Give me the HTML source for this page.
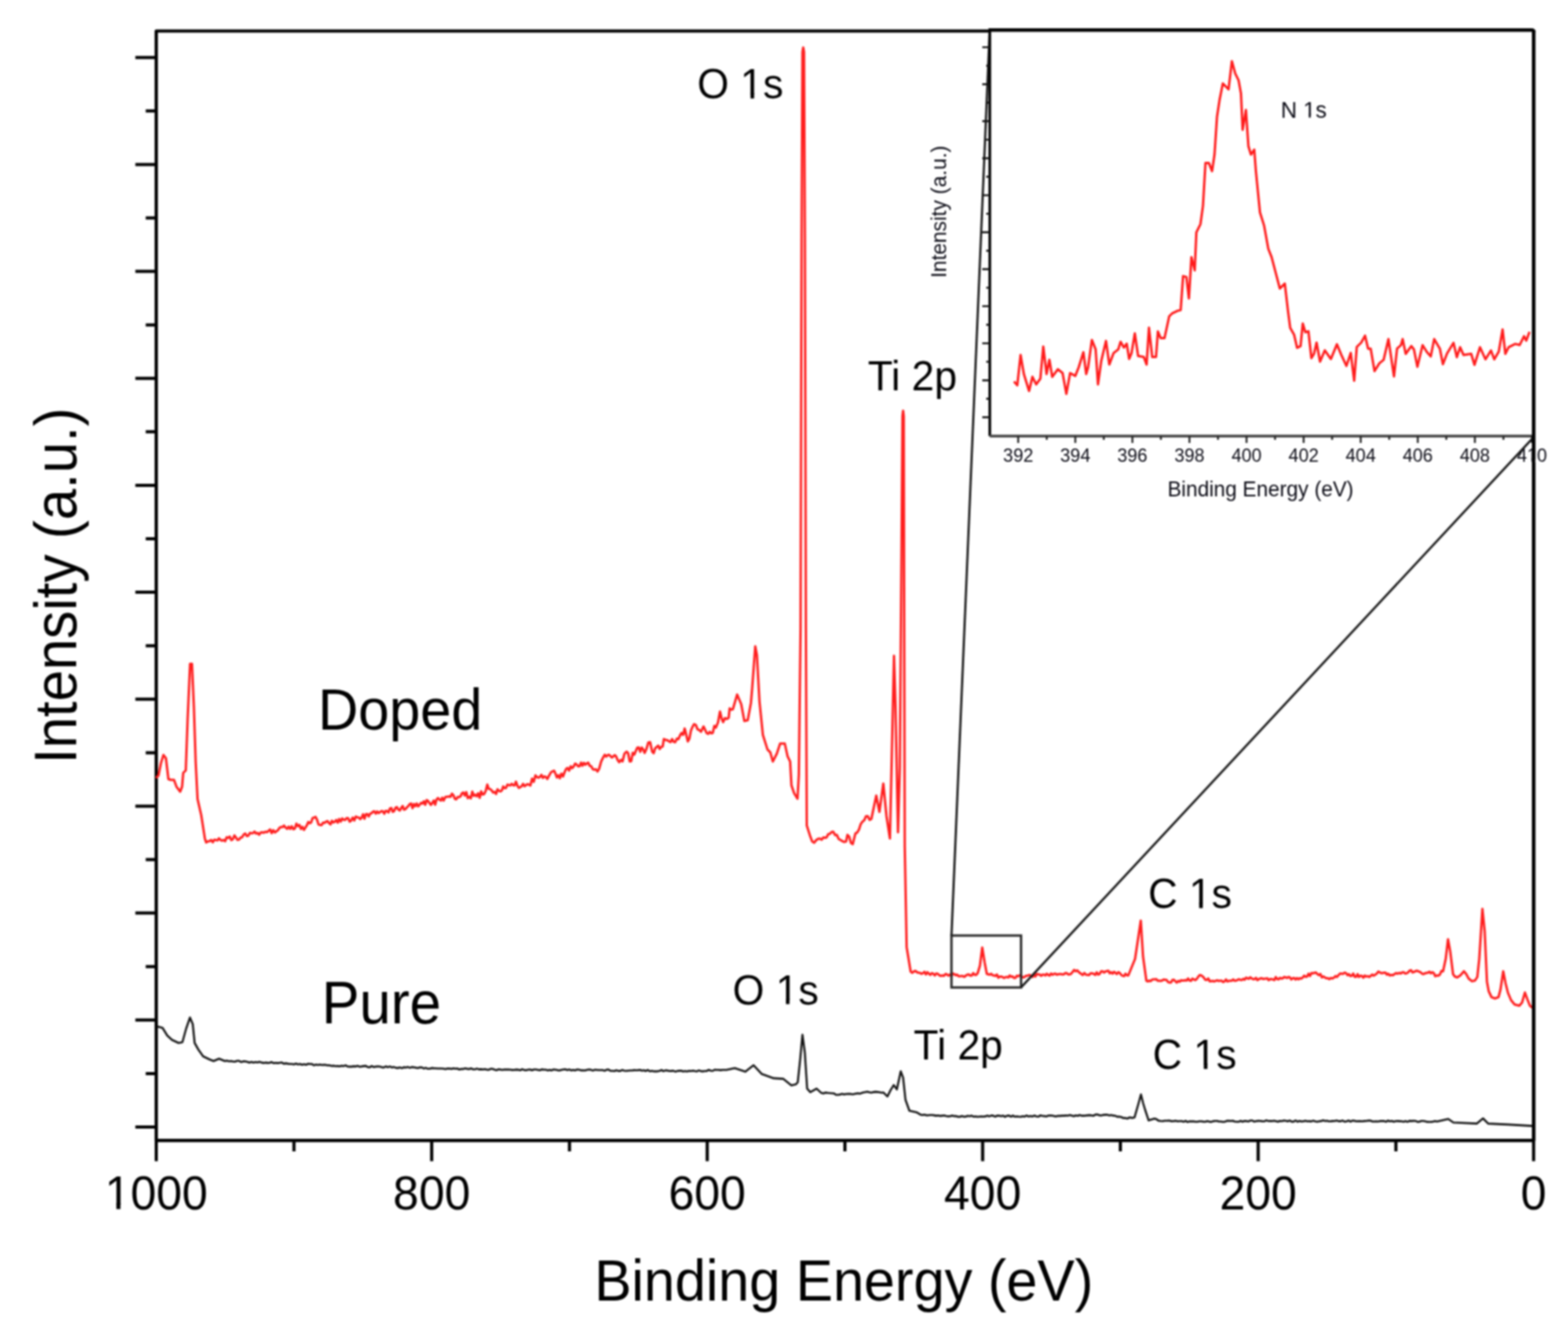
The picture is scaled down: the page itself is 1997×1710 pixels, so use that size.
<!DOCTYPE html>
<html><head><meta charset="utf-8"><title>XPS survey spectra of pure and N-doped TiO2</title>
<style>
html,body{margin:0;padding:0;background:#fff;width:1997px;height:1710px;overflow:hidden;}
svg{display:block;}
text{font-family:"Liberation Sans",Arial,Helvetica,sans-serif;fill:#000;}
.tk{font-size:59px;}
.lab{font-size:52px;}
.big{font-size:71px;}
.itk{font-size:23px;fill:#0a0a14;}
.isub{font-size:26px;fill:#0a0a14;}
</style></head>
<body>
<div id="fig" style="filter:blur(1px)">
<svg width="1997" height="1710" viewBox="0 0 1997 1710">
<rect width="1997" height="1710" fill="#fff"/>
<g>
<path d="M199.0,1452.2 V39.5 H1953.2 V1452.2 Z" fill="none" stroke="#000" stroke-width="4.2" stroke-linejoin="round"/>
<path d="M172.4,73.2H199.0 M172.4,209.4H199.0 M172.4,345.6H199.0 M172.4,481.7H199.0 M172.4,617.9H199.0 M172.4,754.1H199.0 M172.4,890.3H199.0 M172.4,1026.5H199.0 M172.4,1162.6H199.0 M172.4,1298.8H199.0 M172.4,1435.0H199.0 M185.6,141.3H199.0 M185.6,277.5H199.0 M185.6,413.7H199.0 M185.6,549.8H199.0 M185.6,686.0H199.0 M185.6,822.2H199.0 M185.6,958.4H199.0 M185.6,1094.5H199.0 M185.6,1230.7H199.0 M185.6,1366.9H199.0 M199.0,1452.2V1478.5 M549.8,1452.2V1478.5 M900.7,1452.2V1478.5 M1251.5,1452.2V1478.5 M1602.4,1452.2V1478.5 M1953.2,1452.2V1478.5 M374.4,1452.2V1466 M725.3,1452.2V1466 M1076.1,1452.2V1466 M1426.9,1452.2V1466 M1777.8,1452.2V1466" fill="none" stroke="#000" stroke-width="4"/>
<path d="M200.4,1307.0 L207.0,1308.8 L213.0,1318.5 L219.0,1324.0 L227.5,1328.0 L232.3,1327.0 L237.0,1310.0 L241.9,1295.6 L245.5,1304.0 L247.9,1328.0 L252.7,1336.5 L258.7,1345.0 L267.0,1349.0 L272.0,1351.0 L279.0,1348.0 L286.3,1351.0 L288.9,1350.6 L291.5,1351.3 L294.1,1351.0 L296.7,1351.6 L299.3,1351.7 L302.0,1350.8 L304.6,1350.8 L307.2,1352.3 L309.8,1351.4 L312.4,1351.4 L315.0,1352.0 L317.6,1353.0 L320.1,1352.1 L322.7,1352.9 L325.3,1352.3 L327.9,1352.7 L330.4,1351.9 L333.0,1352.9 L335.6,1353.4 L338.1,1352.9 L340.7,1353.4 L343.3,1353.3 L345.9,1352.3 L348.4,1353.7 L351.0,1353.3 L353.6,1353.6 L356.2,1353.2 L358.8,1352.8 L361.4,1354.4 L364.0,1353.9 L366.6,1354.4 L369.1,1354.8 L371.7,1354.7 L374.3,1355.2 L376.9,1354.3 L379.5,1355.2 L382.1,1354.7 L384.7,1355.7 L387.3,1355.0 L389.8,1355.8 L392.3,1354.5 L394.8,1354.7 L397.3,1354.9 L399.9,1356.4 L402.4,1355.5 L404.9,1356.0 L407.4,1355.5 L409.9,1356.0 L412.4,1355.8 L414.9,1355.9 L417.4,1356.4 L419.9,1356.5 L422.4,1357.2 L425.0,1356.9 L427.5,1357.5 L430.0,1357.4 L432.5,1357.8 L435.0,1357.0 L437.6,1357.4 L440.1,1356.5 L442.7,1357.9 L445.2,1358.1 L447.8,1358.1 L450.4,1357.6 L452.9,1357.9 L455.5,1357.1 L458.1,1358.2 L460.6,1357.9 L463.2,1357.4 L465.8,1357.1 L468.3,1358.6 L470.9,1358.9 L473.4,1357.3 L476.0,1358.7 L478.6,1358.1 L481.1,1357.7 L483.7,1358.0 L486.2,1358.9 L488.8,1359.2 L491.4,1357.8 L493.9,1358.9 L496.5,1357.9 L499.1,1359.2 L501.6,1358.6 L504.2,1359.6 L506.8,1359.9 L509.3,1359.1 L511.9,1360.1 L514.4,1358.9 L517.0,1359.3 L519.5,1358.6 L522.0,1359.6 L524.6,1358.6 L527.1,1359.0 L529.6,1359.4 L532.1,1359.9 L534.6,1359.1 L537.2,1359.0 L539.7,1360.5 L542.2,1359.6 L544.7,1360.8 L547.2,1360.7 L549.8,1359.9 L552.3,1360.1 L554.8,1360.2 L557.3,1360.5 L559.8,1360.5 L562.4,1360.5 L564.9,1360.7 L567.4,1361.3 L569.9,1360.6 L572.4,1360.5 L575.0,1361.1 L577.5,1360.3 L580.0,1360.8 L582.5,1360.5 L585.0,1361.8 L587.5,1361.0 L590.0,1361.1 L592.5,1360.2 L595.0,1360.9 L597.5,1361.3 L600.0,1360.3 L602.5,1361.5 L605.0,1361.5 L607.5,1360.6 L610.0,1361.6 L612.5,1361.4 L615.0,1361.8 L617.5,1361.3 L620.0,1362.0 L622.5,1362.1 L625.0,1360.8 L627.5,1361.0 L630.0,1362.1 L632.5,1362.7 L635.0,1361.5 L637.5,1361.9 L640.0,1362.2 L642.5,1361.7 L645.0,1361.9 L647.5,1361.8 L650.0,1362.0 L652.5,1362.4 L655.0,1362.3 L657.5,1361.9 L660.0,1362.1 L662.5,1362.8 L665.0,1361.4 L667.5,1362.4 L670.0,1362.7 L672.5,1362.0 L675.0,1361.8 L677.5,1362.8 L680.0,1361.8 L682.5,1361.7 L685.0,1362.2 L687.5,1362.7 L690.0,1361.6 L692.5,1362.0 L695.0,1362.0 L697.5,1362.9 L700.0,1362.2 L702.5,1362.9 L705.0,1361.7 L707.5,1362.0 L710.0,1362.6 L712.5,1363.0 L715.0,1362.2 L717.5,1361.8 L720.0,1361.6 L722.5,1362.4 L725.0,1361.7 L727.5,1362.9 L730.0,1362.3 L732.5,1362.9 L735.0,1361.8 L737.5,1362.0 L740.0,1362.9 L742.5,1362.7 L745.0,1363.0 L747.5,1362.2 L750.0,1361.8 L752.5,1362.1 L755.0,1363.1 L757.5,1362.1 L760.0,1362.3 L762.5,1362.5 L765.0,1362.5 L767.5,1362.5 L770.0,1363.4 L772.5,1362.1 L775.0,1361.8 L777.5,1363.5 L780.0,1363.5 L782.5,1363.7 L785.0,1362.7 L787.5,1363.6 L790.0,1363.6 L792.5,1362.4 L795.0,1363.3 L797.5,1363.5 L800.0,1363.2 L802.5,1363.0 L805.0,1363.0 L807.5,1362.6 L810.0,1362.8 L812.5,1362.6 L815.0,1362.3 L817.5,1363.3 L820.0,1362.8 L822.5,1363.7 L825.0,1362.4 L827.5,1364.0 L830.0,1363.6 L832.5,1364.1 L835.0,1364.0 L837.5,1364.1 L840.0,1363.5 L842.5,1362.5 L845.0,1363.9 L847.5,1362.9 L850.0,1363.1 L852.5,1363.8 L855.0,1363.6 L857.5,1363.4 L860.0,1364.4 L862.5,1363.8 L865.0,1363.4 L867.5,1363.2 L870.0,1364.3 L872.5,1363.7 L875.0,1364.3 L877.5,1363.5 L880.0,1363.8 L882.5,1363.2 L885.0,1363.7 L887.5,1364.1 L890.1,1362.9 L892.6,1363.9 L895.1,1364.1 L897.6,1363.8 L900.1,1363.7 L902.6,1362.2 L905.2,1363.2 L907.7,1363.5 L910.2,1362.0 L912.7,1362.3 L915.2,1362.2 L917.8,1362.6 L920.3,1362.3 L922.8,1362.3 L925.3,1362.3 L935.8,1360.0 L949.3,1364.6 L959.8,1356.3 L970.3,1367.6 L985.4,1372.9 L997.4,1373.6 L1007.9,1381.9 L1013.9,1380.4 L1016.0,1378.0 L1019.0,1350.0 L1022.0,1317.5 L1025.0,1340.0 L1028.0,1386.1 L1032.0,1390.6 L1040.0,1386.1 L1046.0,1391.6 L1048.7,1392.3 L1051.3,1391.1 L1054.0,1391.5 L1056.7,1391.8 L1059.3,1392.0 L1062.0,1392.2 L1064.7,1394.0 L1067.3,1394.0 L1070.0,1393.6 L1072.5,1392.8 L1075.0,1393.4 L1077.5,1393.0 L1080.0,1392.9 L1082.5,1392.8 L1085.0,1393.3 L1087.5,1393.1 L1090.0,1392.5 L1092.5,1392.1 L1095.0,1392.6 L1098.5,1391.3 L1102.0,1390.6 L1104.6,1390.0 L1107.2,1390.8 L1109.7,1391.2 L1112.3,1390.6 L1114.9,1390.1 L1117.5,1390.4 L1120.0,1390.8 L1122.6,1391.2 L1125.2,1391.1 L1130.2,1396.1 L1134.2,1388.1 L1138.2,1381.6 L1142.2,1387.1 L1147.2,1364.1 L1150.2,1372.1 L1153.2,1400.2 L1158.2,1414.2 L1167.2,1416.2 L1172.2,1419.2 L1174.7,1419.8 L1177.2,1419.3 L1179.8,1420.1 L1182.3,1420.0 L1184.8,1419.7 L1187.3,1419.8 L1189.8,1420.1 L1192.4,1420.6 L1194.9,1420.3 L1197.4,1420.9 L1199.9,1420.6 L1202.4,1420.3 L1205.0,1421.0 L1207.5,1421.4 L1210.0,1421.2 L1212.5,1420.4 L1215.0,1421.1 L1217.5,1421.1 L1220.0,1421.9 L1222.5,1422.0 L1225.0,1421.0 L1227.5,1421.9 L1230.0,1421.8 L1232.5,1420.8 L1235.0,1421.2 L1237.5,1420.6 L1240.0,1421.8 L1242.5,1421.5 L1245.0,1422.0 L1247.5,1421.8 L1250.0,1421.6 L1252.5,1421.7 L1255.0,1421.4 L1257.5,1420.6 L1260.0,1421.4 L1262.5,1420.4 L1265.0,1420.6 L1267.5,1421.8 L1270.0,1420.5 L1272.5,1420.6 L1275.0,1421.3 L1277.5,1420.6 L1280.0,1422.0 L1282.5,1420.7 L1285.0,1420.4 L1287.5,1421.8 L1290.0,1420.5 L1292.5,1421.8 L1295.0,1421.5 L1297.5,1421.8 L1300.0,1422.0 L1302.5,1421.3 L1305.0,1421.7 L1307.5,1420.3 L1310.0,1421.6 L1312.5,1421.1 L1315.0,1421.5 L1317.5,1420.4 L1320.0,1421.5 L1322.5,1421.8 L1325.0,1420.2 L1327.5,1420.7 L1330.0,1421.1 L1332.5,1421.6 L1335.0,1420.5 L1337.5,1420.4 L1340.0,1420.5 L1342.5,1421.1 L1345.0,1421.4 L1347.5,1420.7 L1350.0,1420.9 L1352.5,1420.6 L1355.0,1420.6 L1357.5,1420.4 L1360.0,1420.5 L1362.6,1419.8 L1365.1,1420.5 L1367.6,1421.3 L1370.1,1420.2 L1372.6,1420.8 L1375.1,1419.7 L1377.6,1420.6 L1380.2,1420.6 L1382.7,1420.4 L1385.2,1420.1 L1387.7,1419.9 L1390.2,1420.2 L1392.7,1420.6 L1395.2,1419.1 L1397.7,1419.0 L1400.2,1420.1 L1402.8,1420.3 L1405.3,1419.6 L1407.8,1419.4 L1410.3,1419.4 L1412.8,1420.3 L1415.3,1419.8 L1417.8,1420.4 L1420.3,1420.7 L1422.8,1421.9 L1425.3,1421.9 L1427.8,1422.2 L1430.3,1423.5 L1432.8,1423.6 L1435.8,1424.2 L1438.8,1422.8 L1441.9,1423.4 L1444.9,1422.8 L1450.0,1405.0 L1453.1,1393.5 L1456.0,1405.0 L1458.4,1413.0 L1462.9,1426.6 L1470.4,1424.3 L1472.9,1425.1 L1475.4,1426.9 L1477.9,1427.3 L1480.7,1427.5 L1483.4,1427.0 L1486.2,1427.0 L1489.0,1426.7 L1491.7,1427.6 L1494.5,1427.5 L1497.2,1427.1 L1500.0,1427.8 L1502.5,1427.5 L1505.0,1427.5 L1507.5,1428.3 L1510.0,1427.1 L1512.5,1428.6 L1515.0,1427.7 L1517.5,1427.9 L1520.0,1427.7 L1522.5,1428.3 L1525.0,1428.3 L1527.5,1427.8 L1530.0,1427.7 L1532.5,1428.1 L1535.0,1428.3 L1537.5,1427.5 L1540.0,1428.1 L1542.5,1428.5 L1545.0,1427.6 L1547.5,1427.2 L1550.0,1427.2 L1552.5,1428.0 L1555.0,1428.0 L1557.5,1428.5 L1560.0,1428.3 L1562.5,1427.1 L1565.0,1427.0 L1567.5,1427.2 L1570.0,1427.0 L1572.5,1428.0 L1575.0,1428.2 L1577.5,1428.3 L1580.0,1427.1 L1582.5,1428.2 L1585.0,1427.2 L1587.5,1427.4 L1590.0,1427.9 L1592.5,1426.8 L1595.0,1426.8 L1597.5,1428.1 L1600.0,1427.5 L1602.5,1427.1 L1605.0,1427.2 L1607.5,1427.6 L1610.0,1427.8 L1612.5,1426.6 L1615.0,1427.2 L1617.5,1427.4 L1620.0,1427.4 L1622.5,1426.9 L1625.0,1427.6 L1627.5,1428.3 L1630.0,1427.2 L1632.5,1427.5 L1635.0,1426.7 L1637.5,1427.0 L1640.0,1427.7 L1642.5,1426.7 L1645.0,1428.1 L1647.5,1428.1 L1650.0,1426.7 L1652.5,1428.2 L1655.0,1427.2 L1657.5,1427.9 L1660.0,1427.8 L1662.5,1427.0 L1665.0,1427.7 L1667.5,1427.6 L1670.0,1427.9 L1672.5,1426.9 L1675.0,1427.8 L1677.5,1428.2 L1680.0,1427.7 L1682.5,1427.4 L1685.0,1426.6 L1687.5,1427.3 L1690.0,1427.1 L1692.5,1427.7 L1695.0,1427.6 L1697.5,1427.4 L1700.0,1427.3 L1702.5,1426.7 L1705.0,1427.6 L1707.5,1427.6 L1710.0,1426.8 L1712.5,1428.1 L1715.0,1427.7 L1717.5,1426.7 L1720.0,1428.2 L1722.5,1426.8 L1725.0,1427.1 L1727.5,1427.8 L1730.0,1427.6 L1732.5,1427.6 L1735.1,1427.8 L1737.6,1427.4 L1740.1,1427.2 L1742.6,1426.9 L1745.1,1426.8 L1747.6,1427.9 L1750.1,1428.0 L1752.6,1427.7 L1755.1,1428.0 L1757.6,1427.4 L1760.1,1427.2 L1762.6,1427.4 L1765.1,1428.3 L1767.6,1426.8 L1770.1,1427.7 L1772.6,1427.2 L1775.1,1428.2 L1777.6,1427.5 L1780.1,1427.4 L1782.6,1427.6 L1785.1,1427.8 L1787.6,1428.3 L1790.1,1427.5 L1792.6,1428.4 L1795.1,1427.1 L1797.7,1427.4 L1800.2,1427.1 L1802.7,1427.2 L1805.2,1428.4 L1807.7,1428.3 L1810.2,1427.3 L1812.7,1427.3 L1815.2,1427.8 L1817.7,1428.4 L1820.2,1428.5 L1822.7,1428.4 L1825.2,1428.1 L1827.7,1427.4 L1830.2,1428.0 L1844.5,1424.7 L1851.0,1429.3 L1881.0,1430.6 L1888.8,1424.0 L1895.3,1430.6 L1921.4,1431.9 L1951.3,1433.6" fill="none" stroke="#141414" stroke-width="2.6" stroke-linejoin="round"/>
<path d="M198.7,990.6 L201.8,987.4 L205.0,971.6 L208.2,961.3 L211.3,965.3 L214.5,992.0 L217.6,993.0 L221.6,993.0 L224.7,1001.6 L229.5,1008.0 L231.9,1001.6 L233.4,984.0 L236.6,981.0 L239.0,914.8 L242.1,845.3 L244.5,845.3 L246.9,899.0 L249.2,970.0 L251.6,1017.4 L256.3,1038.0 L261.0,1068.0 L262.6,1072.7 L264.7,1071.3 L266.9,1071.0 L269.0,1069.5 L271.0,1072.4 L272.9,1069.3 L274.9,1069.6 L276.9,1070.1 L278.9,1067.4 L280.9,1069.6 L282.8,1070.4 L284.8,1069.5 L286.8,1071.1 L288.7,1066.0 L290.7,1067.0 L292.6,1065.2 L294.6,1069.7 L296.6,1068.5 L298.5,1063.7 L300.5,1066.4 L302.5,1069.4 L304.4,1069.0 L306.4,1066.5 L308.4,1066.0 L310.4,1062.6 L312.4,1061.3 L314.3,1064.5 L316.3,1064.0 L318.3,1060.5 L320.2,1060.9 L322.2,1060.7 L324.1,1058.8 L326.1,1061.3 L328.1,1060.6 L330.0,1062.8 L332.0,1060.0 L334.0,1059.8 L336.0,1060.2 L338.0,1058.9 L340.0,1059.6 L342.0,1057.8 L344.0,1056.2 L346.0,1060.8 L348.0,1057.0 L350.0,1060.0 L351.9,1058.5 L353.9,1057.2 L355.9,1054.1 L357.8,1053.1 L359.8,1053.1 L361.7,1051.2 L363.7,1053.7 L365.7,1055.3 L367.6,1052.6 L369.6,1055.4 L371.6,1052.1 L373.6,1055.8 L375.6,1054.8 L377.5,1048.8 L379.5,1052.0 L381.4,1050.4 L383.3,1055.5 L385.2,1052.8 L387.1,1056.6 L389.0,1053.7 L390.8,1050.9 L392.7,1046.6 L394.5,1048.2 L396.3,1047.1 L398.2,1041.6 L400.0,1041.0 L401.9,1040.1 L403.8,1043.7 L405.7,1049.9 L407.6,1050.4 L409.5,1050.6 L411.4,1047.5 L413.3,1047.8 L415.2,1046.3 L417.1,1045.5 L419.0,1048.0 L420.9,1049.7 L422.7,1045.1 L424.6,1047.3 L426.5,1046.2 L428.3,1044.1 L430.2,1047.4 L432.0,1042.9 L433.9,1046.1 L435.8,1042.1 L437.6,1043.8 L439.5,1044.0 L441.4,1041.7 L443.4,1041.8 L445.3,1046.2 L447.3,1044.7 L449.2,1041.0 L451.2,1044.6 L453.1,1039.7 L455.1,1040.6 L457.0,1041.0 L458.8,1042.9 L460.6,1041.0 L462.4,1036.9 L464.2,1042.5 L466.0,1036.7 L467.8,1036.6 L469.6,1039.6 L471.4,1036.1 L473.2,1035.4 L475.0,1033.4 L476.8,1033.1 L478.6,1036.0 L480.4,1033.2 L482.2,1035.2 L484.0,1034.0 L485.8,1032.8 L487.6,1033.0 L489.4,1036.1 L491.2,1032.5 L493.0,1032.7 L494.8,1034.4 L496.6,1029.4 L498.4,1028.8 L500.2,1033.6 L502.0,1032.6 L503.8,1028.4 L505.6,1027.7 L507.4,1031.0 L509.2,1032.0 L511.0,1028.7 L512.8,1026.3 L514.6,1031.0 L516.4,1030.2 L518.2,1028.0 L520.0,1026.4 L521.8,1023.8 L523.6,1023.0 L525.4,1029.0 L527.2,1023.7 L529.0,1026.5 L530.8,1023.1 L532.6,1026.6 L534.4,1024.7 L536.2,1022.3 L538.0,1023.3 L539.8,1020.2 L541.6,1024.7 L543.4,1018.7 L545.2,1019.8 L547.0,1022.5 L548.8,1024.8 L550.6,1022.4 L552.4,1019.2 L554.2,1024.6 L556.0,1018.0 L557.8,1016.1 L559.6,1018.1 L561.4,1019.4 L563.2,1015.7 L565.0,1019.3 L567.3,1014.7 L569.7,1014.6 L572.0,1014.0 L573.8,1014.5 L575.6,1010.6 L577.5,1012.5 L579.3,1017.1 L581.1,1017.8 L582.9,1014.8 L584.7,1015.0 L586.5,1014.0 L588.4,1010.0 L590.2,1009.0 L592.0,1013.0 L593.9,1008.6 L595.8,1016.3 L597.7,1014.3 L599.6,1016.5 L601.5,1008.0 L603.4,1013.3 L605.2,1011.8 L607.1,1013.8 L609.0,1010.0 L610.9,1015.9 L612.8,1007.6 L614.7,1011.6 L616.6,1011.0 L618.6,1007.1 L620.6,999.0 L622.5,1004.4 L624.4,1004.8 L626.2,1006.4 L628.1,1009.1 L630.0,1008.4 L631.8,1011.0 L633.6,1005.0 L635.4,1006.9 L637.2,1007.7 L639.1,1006.4 L640.9,1001.4 L642.7,1003.6 L644.5,1003.2 L646.3,999.0 L648.1,999.6 L649.9,1000.1 L651.7,998.0 L653.5,999.7 L655.3,1000.0 L657.1,995.3 L658.9,1000.2 L660.8,1003.3 L662.6,1002.3 L664.4,1001.0 L666.2,998.0 L668.0,1001.1 L669.8,999.7 L671.6,998.5 L673.4,999.0 L675.5,1000.1 L677.6,991.5 L679.8,995.5 L681.9,987.3 L684.0,989.5 L685.9,990.2 L687.8,989.0 L689.6,986.6 L691.5,990.5 L693.4,988.5 L695.2,989.4 L697.1,991.9 L699.0,988.0 L702.0,983.0 L703.8,982.2 L705.7,981.4 L707.5,985.2 L709.3,989.9 L711.2,987.0 L713.0,991.0 L715.0,985.1 L717.0,988.6 L719.0,983.4 L721.0,979.0 L722.9,977.9 L724.8,981.2 L726.8,975.7 L728.7,978.1 L730.6,976.0 L732.5,972.3 L734.4,973.4 L736.2,975.7 L738.1,975.6 L740.0,971.0 L741.8,975.0 L743.7,971.3 L745.5,973.7 L747.3,972.1 L749.2,971.1 L751.0,975.0 L753.0,975.6 L755.0,979.3 L757.0,980.1 L759.0,979.5 L761.0,982.3 L763.0,979.0 L765.7,969.5 L768.4,964.0 L770.2,961.0 L772.0,963.3 L773.8,961.7 L775.6,961.0 L777.4,962.7 L779.2,964.4 L781.0,963.2 L782.8,961.5 L784.6,963.0 L786.6,967.6 L788.7,970.5 L790.8,967.5 L792.8,969.5 L795.4,959.5 L798.0,957.0 L800.0,959.1 L802.0,969.5 L803.9,969.3 L805.9,958.5 L807.8,960.8 L809.8,956.1 L811.7,952.0 L813.6,951.7 L815.4,957.2 L817.3,951.8 L819.1,954.2 L821.0,958.7 L823.3,953.7 L825.7,945.4 L828.0,945.0 L830.6,957.0 L832.5,959.0 L834.4,952.9 L836.3,951.1 L838.3,949.4 L840.2,953.6 L842.1,951.0 L844.0,950.6 L845.5,941.0 L847.6,942.1 L849.7,942.4 L851.8,943.7 L853.9,945.0 L856.0,941.0 L858.0,944.6 L860.0,945.0 L862.0,940.5 L864.0,941.1 L866.0,936.6 L868.0,933.3 L870.0,935.7 L872.0,927.6 L874.0,935.6 L876.0,944.0 L878.0,940.4 L880.0,930.2 L882.0,925.5 L884.0,922.0 L886.2,923.1 L888.4,928.6 L890.6,929.5 L892.8,931.7 L896.0,925.0 L898.0,929.1 L900.0,933.5 L902.0,934.4 L903.9,931.8 L905.9,933.7 L907.8,933.1 L909.8,924.3 L911.7,926.3 L914.4,920.0 L917.0,906.0 L919.0,914.7 L921.0,919.5 L923.3,914.4 L925.7,915.4 L928.0,914.0 L929.3,902.0 L931.3,903.6 L933.4,903.0 L938.8,884.4 L944.0,896.5 L948.0,918.0 L952.3,917.0 L956.4,895.0 L958.0,876.0 L961.9,823.0 L964.0,834.0 L967.3,893.3 L971.6,935.7 L977.5,954.4 L981.0,957.8 L984.3,969.6 L989.4,959.5 L993.6,946.7 L999.5,946.7 L1003.0,962.8 L1006.3,969.6 L1008.0,1000.0 L1011.4,1010.0 L1015.7,1017.0 L1017.4,986.6 L1019.6,800.0 L1020.9,300.0 L1022.0,66.0 L1023.0,60.5 L1024.0,66.0 L1025.1,300.0 L1026.4,800.0 L1027.5,1051.0 L1031.8,1064.6 L1034.3,1071.3 L1036.9,1073.0 L1039.5,1069.8 L1042.0,1068.0 L1044.2,1067.8 L1046.5,1069.1 L1048.7,1066.3 L1050.8,1066.7 L1052.8,1066.2 L1054.9,1062.0 L1056.9,1061.8 L1059.0,1059.5 L1061.2,1058.9 L1063.5,1063.2 L1065.7,1063.0 L1068.2,1068.3 L1070.8,1069.7 L1073.1,1071.1 L1075.3,1072.1 L1077.6,1071.4 L1079.3,1063.0 L1081.5,1065.2 L1083.8,1073.3 L1086.0,1074.8 L1089.5,1061.2 L1091.7,1060.1 L1094.0,1056.2 L1096.2,1049.4 L1098.5,1046.2 L1100.7,1044.3 L1103.0,1039.2 L1105.3,1039.3 L1107.5,1043.9 L1109.8,1042.6 L1116.0,1013.0 L1120.0,1033.7 L1125.0,997.7 L1129.0,1039.0 L1133.4,1067.6 L1135.8,962.0 L1138.6,835.0 L1140.5,898.9 L1143.7,1059.7 L1146.0,977.7 L1148.2,700.0 L1149.4,530.0 L1150.2,523.0 L1151.0,530.0 L1151.6,800.0 L1152.3,1077.5 L1154.7,1206.0 L1159.8,1237.0 L1161.8,1238.7 L1163.9,1237.0 L1165.9,1236.2 L1168.0,1238.0 L1170.0,1238.5 L1171.9,1238.9 L1173.7,1239.9 L1175.6,1239.0 L1177.4,1237.4 L1179.3,1240.7 L1181.1,1237.9 L1183.0,1239.8 L1184.9,1241.2 L1186.8,1239.0 L1188.7,1239.9 L1190.6,1241.9 L1192.4,1239.6 L1194.3,1239.9 L1196.2,1241.6 L1198.1,1242.6 L1200.0,1242.0 L1202.2,1242.4 L1204.5,1240.0 L1206.3,1241.0 L1208.1,1242.2 L1210.0,1240.7 L1211.8,1242.7 L1213.6,1239.5 L1215.4,1240.3 L1217.2,1241.7 L1219.0,1241.0 L1220.8,1243.0 L1222.7,1242.9 L1224.5,1242.7 L1226.3,1242.8 L1228.2,1243.8 L1230.1,1242.3 L1232.0,1240.9 L1233.9,1240.8 L1235.8,1242.3 L1237.6,1242.1 L1239.5,1239.0 L1241.4,1241.2 L1243.3,1241.3 L1245.2,1239.0 L1248.0,1229.7 L1251.0,1206.5 L1254.0,1225.3 L1256.8,1240.0 L1258.6,1240.5 L1260.5,1241.1 L1262.3,1239.9 L1264.1,1241.7 L1266.0,1241.9 L1267.8,1242.7 L1269.7,1240.8 L1271.5,1244.9 L1273.3,1243.5 L1275.2,1243.4 L1277.0,1244.2 L1278.8,1245.3 L1280.6,1244.3 L1282.4,1243.9 L1284.2,1244.6 L1286.1,1242.0 L1287.9,1243.8 L1289.7,1243.2 L1291.5,1245.3 L1293.3,1245.1 L1295.1,1242.4 L1296.9,1243.1 L1298.8,1241.7 L1300.6,1242.8 L1302.4,1244.2 L1304.2,1244.5 L1306.0,1242.8 L1307.8,1242.6 L1309.6,1241.9 L1311.4,1241.3 L1313.2,1242.9 L1315.1,1244.0 L1316.9,1240.8 L1318.7,1243.3 L1320.5,1240.1 L1322.3,1240.7 L1324.1,1240.8 L1325.9,1242.5 L1327.8,1241.0 L1329.6,1241.0 L1331.4,1242.0 L1333.2,1239.8 L1335.0,1241.3 L1336.8,1242.2 L1338.6,1239.6 L1340.5,1241.1 L1342.3,1240.0 L1344.1,1239.7 L1345.9,1241.0 L1347.7,1240.5 L1349.5,1240.2 L1351.4,1240.3 L1353.2,1240.7 L1355.0,1240.5 L1356.8,1239.0 L1358.6,1239.1 L1360.4,1240.7 L1362.2,1240.7 L1364.0,1240.0 L1366.0,1237.6 L1368.0,1235.0 L1370.0,1236.7 L1372.0,1235.5 L1374.5,1238.2 L1377.0,1240.0 L1379.0,1241.4 L1381.0,1238.9 L1383.0,1241.0 L1385.0,1241.2 L1387.0,1241.6 L1389.0,1239.3 L1391.0,1239.3 L1393.0,1240.0 L1394.9,1241.3 L1396.8,1238.1 L1398.6,1240.9 L1400.5,1240.1 L1402.4,1236.7 L1404.2,1236.7 L1406.1,1238.3 L1408.0,1237.0 L1409.8,1236.4 L1411.6,1236.0 L1413.4,1239.3 L1415.2,1237.9 L1417.1,1239.7 L1418.9,1237.4 L1420.7,1238.8 L1422.5,1240.2 L1424.3,1237.9 L1426.1,1238.9 L1427.9,1241.2 L1429.8,1242.4 L1431.6,1242.9 L1433.4,1239.8 L1435.2,1241.7 L1437.0,1242.0 L1445.6,1221.0 L1452.9,1172.3 L1455.8,1218.0 L1460.0,1248.6 L1461.8,1249.6 L1463.6,1248.6 L1465.5,1249.3 L1467.3,1247.4 L1469.1,1246.9 L1470.9,1247.0 L1472.7,1246.7 L1474.5,1248.8 L1476.4,1248.7 L1478.2,1248.9 L1480.0,1248.6 L1481.9,1247.3 L1483.8,1247.5 L1485.7,1247.7 L1487.6,1250.4 L1489.4,1251.1 L1491.3,1250.9 L1493.2,1247.7 L1495.1,1247.6 L1497.0,1249.5 L1498.8,1251.1 L1500.6,1249.0 L1502.4,1250.0 L1504.2,1248.1 L1506.0,1248.5 L1507.8,1248.5 L1509.6,1248.0 L1511.4,1248.5 L1513.2,1245.9 L1515.0,1248.5 L1516.8,1248.9 L1518.6,1246.1 L1520.4,1247.0 L1522.2,1247.9 L1524.0,1246.8 L1526.0,1243.7 L1528.0,1241.4 L1530.3,1242.2 L1532.7,1244.1 L1535.0,1247.5 L1536.9,1247.7 L1538.8,1245.8 L1540.7,1249.5 L1542.6,1249.2 L1544.5,1249.0 L1546.4,1249.7 L1548.3,1248.9 L1550.2,1248.2 L1552.1,1249.1 L1554.0,1248.8 L1555.8,1248.7 L1557.7,1250.4 L1559.5,1249.6 L1561.4,1247.2 L1563.2,1249.7 L1565.1,1248.9 L1566.9,1248.8 L1568.8,1248.8 L1570.6,1247.0 L1572.5,1248.8 L1574.3,1248.6 L1576.2,1247.7 L1578.0,1246.8 L1579.8,1247.8 L1581.6,1247.8 L1583.4,1246.3 L1585.2,1247.5 L1587.0,1244.8 L1588.8,1245.8 L1590.6,1246.3 L1592.4,1244.4 L1594.2,1245.7 L1596.0,1246.8 L1597.8,1246.7 L1599.6,1245.1 L1601.4,1247.9 L1603.2,1246.7 L1605.0,1246.0 L1606.8,1245.4 L1608.6,1246.6 L1610.4,1246.3 L1612.2,1246.1 L1614.0,1245.6 L1615.8,1248.0 L1617.6,1246.6 L1619.4,1246.8 L1621.2,1247.0 L1623.0,1247.9 L1624.8,1244.1 L1626.6,1246.5 L1628.4,1247.0 L1630.2,1245.0 L1632.0,1246.0 L1633.8,1245.5 L1635.6,1244.0 L1637.4,1244.5 L1639.2,1245.2 L1641.0,1244.0 L1642.8,1244.5 L1644.6,1247.1 L1646.4,1245.6 L1648.2,1245.3 L1650.0,1247.1 L1651.8,1245.4 L1653.6,1247.0 L1655.4,1245.5 L1657.2,1246.1 L1659.0,1244.8 L1660.9,1242.3 L1662.8,1243.7 L1664.6,1243.5 L1666.5,1239.9 L1668.4,1242.7 L1670.2,1238.9 L1672.1,1239.3 L1674.0,1238.7 L1675.9,1238.2 L1677.8,1240.3 L1679.7,1241.6 L1681.6,1240.2 L1683.5,1244.5 L1685.4,1243.2 L1687.3,1244.5 L1689.2,1245.6 L1691.1,1245.5 L1693.0,1246.8 L1695.0,1245.2 L1696.9,1245.9 L1698.9,1244.8 L1700.9,1242.9 L1702.8,1243.9 L1704.8,1241.5 L1706.8,1239.6 L1708.7,1239.7 L1710.7,1240.0 L1712.5,1238.4 L1714.4,1239.1 L1716.2,1241.7 L1718.0,1240.4 L1719.9,1242.7 L1721.7,1242.3 L1723.5,1239.7 L1725.3,1243.7 L1727.2,1243.7 L1729.0,1240.4 L1730.8,1244.0 L1732.7,1242.3 L1734.5,1242.7 L1736.3,1244.9 L1738.2,1242.2 L1740.0,1243.4 L1741.9,1242.9 L1743.8,1243.9 L1745.8,1242.5 L1747.7,1240.9 L1749.6,1242.3 L1751.5,1241.1 L1753.5,1239.6 L1755.4,1237.1 L1757.3,1238.0 L1759.1,1239.1 L1760.9,1239.0 L1762.7,1238.5 L1764.6,1238.5 L1766.4,1241.0 L1768.2,1239.9 L1770.0,1242.0 L1772.0,1241.3 L1774.0,1241.7 L1776.0,1240.3 L1778.0,1239.0 L1780.0,1239.8 L1782.0,1238.7 L1784.0,1239.6 L1786.0,1238.0 L1787.8,1237.9 L1789.7,1239.6 L1791.5,1239.2 L1793.4,1238.1 L1795.2,1236.0 L1797.1,1235.3 L1799.0,1238.2 L1800.8,1237.5 L1802.7,1236.7 L1804.5,1236.0 L1806.8,1236.8 L1809.1,1237.8 L1811.4,1240.0 L1813.2,1240.2 L1815.1,1239.2 L1816.9,1238.7 L1818.8,1238.4 L1820.6,1237.3 L1822.4,1239.3 L1824.3,1237.9 L1826.1,1239.1 L1828.0,1243.0 L1829.8,1242.0 L1831.8,1242.3 L1833.8,1240.9 L1835.9,1236.2 L1837.9,1236.7 L1841.3,1220.6 L1844.2,1195.9 L1847.0,1211.4 L1850.6,1240.3 L1853.0,1243.5 L1856.0,1244.5 L1859.8,1242.0 L1864.4,1236.7 L1867.2,1240.0 L1870.5,1246.0 L1874.7,1249.4 L1878.5,1248.5 L1881.5,1244.0 L1884.0,1220.6 L1888.0,1157.3 L1890.9,1186.0 L1893.8,1250.0 L1896.0,1262.0 L1899.5,1269.5 L1904.0,1271.3 L1908.5,1269.5 L1911.0,1260.0 L1914.5,1236.7 L1917.5,1252.0 L1920.5,1264.0 L1924.5,1273.5 L1929.0,1279.0 L1935.0,1280.5 L1938.5,1276.5 L1942.1,1263.8 L1945.5,1273.0 L1948.5,1280.5 L1952.0,1283.4" fill="none" stroke="#ff1e1e" stroke-width="3" stroke-linejoin="round"/>
<rect x="1211.8" y="1191.2" width="88.6" height="66.1" fill="none" stroke="#2a2a2a" stroke-width="3"/>
<path d="M1211.8,1191.2 L1260.5,38" fill="none" stroke="#1a1a1a" stroke-width="2.8"/>
<rect x="1260.6" y="38.2" width="692.6" height="517.0" fill="#fff" stroke="none"/>
<path d="M1260.6,555.2 V38.2" fill="none" stroke="#000" stroke-width="3.4"/>
<path d="M1258.8999999999999,38.2 H1950.7 Q1953.2,38.2 1953.2,40.7" fill="none" stroke="#000" stroke-width="4.6"/>
<path d="M1260.6,555.2 H1953.2" fill="none" stroke="#444" stroke-width="3.4"/>
<path d="M1251,531.3H1260.6 M1251,484.2H1260.6 M1251,437.1H1260.6 M1251,389.9H1260.6 M1251,342.8H1260.6 M1251,295.7H1260.6 M1251,248.6H1260.6 M1251,201.5H1260.6 M1251,154.3H1260.6 M1251,107.2H1260.6 M1251,60.1H1260.6 M1256,507.7H1260.6 M1256,460.6H1260.6 M1256,413.5H1260.6 M1256,366.4H1260.6 M1256,319.3H1260.6 M1256,272.1H1260.6 M1256,225.0H1260.6 M1256,177.9H1260.6 M1256,130.8H1260.6 M1256,83.7H1260.6" fill="none" stroke="#111" stroke-width="2.4"/>
<path d="M1296.8,555.2V564 M1333.1,555.2V560 M1369.5,555.2V564 M1405.8,555.2V560 M1442.2,555.2V564 M1478.5,555.2V560 M1514.9,555.2V564 M1551.2,555.2V560 M1587.6,555.2V564 M1623.9,555.2V560 M1660.3,555.2V564 M1696.6,555.2V560 M1733.0,555.2V564 M1769.3,555.2V560 M1805.7,555.2V564 M1842.0,555.2V560 M1878.4,555.2V564 M1914.8,555.2V560 M1951.1,555.2V564" fill="none" stroke="#222" stroke-width="2.4"/>
<path d="M1291.4,485.8 L1295.6,490.6 L1299.8,452.1 L1304.0,476.2 L1310.6,497.8 L1314.9,479.8 L1319.7,489.4 L1325.0,482.2 L1328.7,441.3 L1332.9,476.2 L1336.5,458.1 L1340.1,479.8 L1347.3,470.1 L1353.3,475.0 L1358.1,501.4 L1362.9,475.0 L1369.5,478.6 L1373.8,467.7 L1379.8,448.5 L1383.4,476.2 L1385.8,467.7 L1390.6,432.9 L1395.4,444.9 L1398.4,489.4 L1402.6,459.3 L1408.6,434.1 L1412.8,464.1 L1418.2,449.7 L1424.2,444.9 L1427.2,435.3 L1431.4,442.5 L1435.0,437.7 L1438.1,456.9 L1441.1,449.7 L1445.3,424.5 L1449.5,453.3 L1456.7,454.5 L1460.3,464.1 L1463.3,417.3 L1467.5,454.5 L1472.3,454.5 L1474.7,422.1 L1478.3,430.5 L1483.1,430.5 L1489.1,402.8 L1492.7,399.2 L1500.0,395.6 L1503.7,394.7 L1506.8,351.6 L1511.0,352.6 L1514.2,380.0 L1517.4,327.4 L1521.6,344.2 L1523.7,295.8 L1528.9,285.3 L1532.1,262.1 L1535.3,207.4 L1539.5,207.4 L1543.7,217.9 L1546.8,196.8 L1550.0,148.4 L1553.2,127.4 L1557.4,106.3 L1564.7,113.7 L1568.9,77.9 L1573.2,93.7 L1577.4,102.1 L1580.5,118.9 L1582.6,165.3 L1586.8,140.0 L1590.0,186.3 L1593.2,196.8 L1597.4,190.5 L1599.5,217.9 L1604.7,270.5 L1610.0,287.4 L1615.3,316.8 L1619.5,327.4 L1630.0,367.4 L1636.3,361.0 L1640.5,396.8 L1643.2,417.5 L1648.2,426.3 L1652.0,442.8 L1656.4,440.6 L1659.2,412.0 L1662.5,423.0 L1666.4,421.9 L1670.2,456.0 L1673.5,450.5 L1676.8,436.2 L1681.2,460.4 L1687.3,446.1 L1695.0,457.1 L1702.7,438.4 L1708.2,451.6 L1714.8,465.9 L1720.3,449.4 L1724.7,484.7 L1728.0,441.7 L1733.6,436.2 L1738.5,427.4 L1742.4,443.9 L1745.7,443.9 L1750.6,472.5 L1756.7,462.6 L1762.2,458.2 L1768.3,431.8 L1775.4,479.2 L1779.3,443.9 L1784.2,439.5 L1786.4,431.8 L1790.3,450.5 L1797.5,440.6 L1800.8,445.0 L1805.2,467.0 L1811.8,439.5 L1817.3,448.3 L1822.2,453.8 L1826.6,431.8 L1833.8,443.9 L1837.7,463.7 L1843.0,450.0 L1851.2,436.5 L1855.4,454.7 L1859.6,442.1 L1863.9,451.9 L1873.7,450.5 L1877.9,464.5 L1884.9,442.1 L1891.9,457.5 L1898.9,446.3 L1903.1,457.5 L1908.8,447.7 L1913.7,419.6 L1917.2,450.5 L1921.4,442.1 L1929.8,437.9 L1935.4,439.3 L1941.0,428.1 L1943.8,433.7 L1948.0,422.4" fill="none" stroke="#ff1a1a" stroke-width="3" stroke-linejoin="round"/>
<g transform="translate(199.0,1539.5) scale(1,1.035)"><text id="tk0" text-anchor="middle" class="tk">1000</text><path d="M-62.32,-5.51H-34.48V1.00H-62.32Z" fill="#fff"/><path d="M-50.78,-7.01H-45.56V0H-50.78Z" fill="#000"/></g>
<g transform="translate(549.8,1539.5) scale(1,1.035)"><text id="tk1" text-anchor="middle" class="tk">800</text></g>
<g transform="translate(900.7,1539.5) scale(1,1.035)"><text id="tk2" text-anchor="middle" class="tk">600</text></g>
<g transform="translate(1251.5,1539.5) scale(1,1.035)"><text id="tk3" text-anchor="middle" class="tk">400</text></g>
<g transform="translate(1602.4,1539.5) scale(1,1.035)"><text id="tk4" text-anchor="middle" class="tk">200</text></g>
<g transform="translate(1953.2,1539.5) scale(1,1.035)"><text id="tk5" text-anchor="middle" class="tk">0</text></g>
<g transform="translate(1296.8,588) scale(1,1.04)"><text id="itk392" text-anchor="middle" class="itk">392</text></g>
<g transform="translate(1369.5,588) scale(1,1.04)"><text id="itk394" text-anchor="middle" class="itk">394</text></g>
<g transform="translate(1442.2,588) scale(1,1.04)"><text id="itk396" text-anchor="middle" class="itk">396</text></g>
<g transform="translate(1514.9,588) scale(1,1.04)"><text id="itk398" text-anchor="middle" class="itk">398</text></g>
<g transform="translate(1587.6,588) scale(1,1.04)"><text id="itk400" text-anchor="middle" class="itk">400</text></g>
<g transform="translate(1660.3,588) scale(1,1.04)"><text id="itk402" text-anchor="middle" class="itk">402</text></g>
<g transform="translate(1733.0,588) scale(1,1.04)"><text id="itk404" text-anchor="middle" class="itk">404</text></g>
<g transform="translate(1805.7,588) scale(1,1.04)"><text id="itk406" text-anchor="middle" class="itk">406</text></g>
<g transform="translate(1878.4,588) scale(1,1.04)"><text id="itk408" text-anchor="middle" class="itk">408</text></g>
<g transform="translate(1951.1,588) scale(1,1.04)"><text id="itk410" text-anchor="middle" class="itk">410</text><path d="M-5.86,-2.82H6.46V1.00H-5.86Z" fill="#fff"/><path d="M-0.63,-4.32H1.41V0H-0.63Z" fill="#0a0a14"/></g>
<g transform="translate(1486.9,631.7) scale(1,1.02)"><text id="ibe" class="isub" style="font-size:26.5px">Binding Energy (eV)</text></g>
<g transform="translate(1205.1,353.8) rotate(-90) scale(1,1.02)"><text id="iint" class="isub" style="font-size:26.6px">Intensity (a.u.)</text></g>
<g transform="translate(1631.2,149.7) scale(1,1.045)"><text id="n1s" style="font-size:28.5px;fill:#0a0a14">N 1s</text><path d="M29.45,-3.23H44.14V1.00H29.45Z" fill="#fff"/><path d="M35.64,-4.73H38.16V0H35.64Z" fill="#0a0a14"/></g>
<g transform="translate(757,1655.6) scale(1,1.046)"><text id="be" class="big">Binding Energy (eV)</text></g>
<g transform="translate(96.7,972.6) rotate(-90) scale(1,1.07)"><text id="int" class="big" style="font-size:71.6px">Intensity (a.u.)</text></g>
<g transform="translate(887.9,125.4) scale(1,1.045)"><text id="o1s" class="lab">O 1s</text><path d="M57.64,-4.98H82.46V1.00H57.64Z" fill="#fff"/><path d="M67.95,-6.48H72.55V0H67.95Z" fill="#000"/></g>
<g transform="translate(1105.2,496.5) scale(1,1.045)"><text id="ti2p" class="lab">Ti 2p</text></g>
<g transform="translate(405.1,928.5) scale(1,1.05)"><text id="doped" class="big">Doped</text></g>
<g transform="translate(1462.2,1156.3) scale(1,1.045)"><text id="c1s" class="lab">C 1s</text><path d="M54.75,-4.98H79.57V1.00H54.75Z" fill="#fff"/><path d="M65.07,-6.48H69.66V0H65.07Z" fill="#000"/></g>
<g transform="translate(409.7,1303.1) scale(1,1.055)"><text id="pure" class="big" style="font-size:72px">Pure</text></g>
<g transform="translate(933,1278.5) scale(1,1.045)"><text id="o1sb" class="lab">O 1s</text><path d="M57.64,-4.98H82.46V1.00H57.64Z" fill="#fff"/><path d="M67.95,-6.48H72.55V0H67.95Z" fill="#000"/></g>
<g transform="translate(1163.6,1348.8) scale(1,1.045)"><text id="ti2pb" class="lab">Ti 2p</text></g>
<g transform="translate(1468.1,1361.1) scale(1,1.045)"><text id="c1sb" class="lab">C 1s</text><path d="M54.75,-4.98H79.57V1.00H54.75Z" fill="#fff"/><path d="M65.07,-6.48H69.66V0H65.07Z" fill="#000"/></g>
<path d="M1300.4,1257.3 L1952,558" fill="none" stroke="#1a1a1a" stroke-width="2.8"/>
<path d="M1953.2,38.2 V1452.2" fill="none" stroke="#000" stroke-width="4.4"/>
</g>
</svg>
</div>
</body></html>
